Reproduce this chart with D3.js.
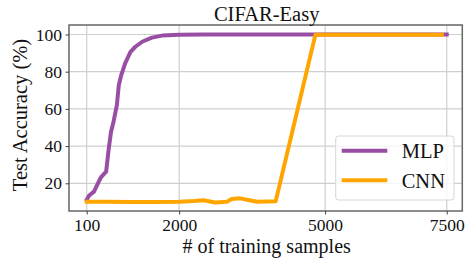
<!DOCTYPE html>
<html>
<head>
<meta charset="utf-8">
<script src="https://cdn.jsdelivr.net/npm/d3@7"></script>
<style>
  body { margin: 0; background: #fff; }
  text { font-family: "Liberation Serif", "Times New Roman", serif; fill: #111; }
</style>
</head>
<body>
<div id="chart"></div>
<script>
const mlpX = [100, 150, 250, 350, 400, 500, 550, 600, 650, 720, 760, 810, 890, 1000, 1100, 1240, 1440, 1650, 2000, 2500, 3000, 4000, 5000, 6000, 7500];
const mlpY = [11.2, 13.4, 15.5, 21, 23.5, 26.3, 38, 47.7, 53, 62, 72.8, 78.2, 84.5, 90.7, 93.4, 96.1, 98.3, 99.4, 99.8, 100, 100, 100, 100, 100, 100];

const cnnX = [100, 500, 1000, 1500, 2000, 2300, 2500, 2740, 2980, 3080, 3250, 3420, 3600, 3985, 4800, 5500, 6500, 7400];
const cnnY = [10.1, 10.1, 10.0, 10.0, 10.1, 10.5, 10.9, 9.7, 10.1, 11.6, 11.9, 11.0, 10.1, 10.4, 99.8, 99.9, 99.9, 99.9];

const xTicks = [100, 2000, 5000, 7500];
const yTicks = [20, 40, 60, 80, 100];

const legend = ['MLP', 'CNN'];
const colors = ['#984ea3', '#ffa500'];

const title = 'CIFAR-Easy';
const xLabel = '# of training samples';
const yLabel = 'Test Accuracy (%)';

const width = 466;
const height = 258;

const plotLeft = 69;
const plotRight = 462.3;
const plotTop = 25;
const plotBottom = 211;

const xScale = d3.scaleLinear().domain([-264, 7820]).range([plotLeft, plotRight]);
const yScale = d3.scaleLinear().domain([5.1, 105.1]).range([plotBottom, plotTop]);

const svg = d3
  .select('#chart')
  .append('svg')
  .attr('width', width)
  .attr('height', height);

// grid
svg
  .append('g')
  .selectAll('line')
  .data(xTicks)
  .enter()
  .append('line')
  .attr('x1', (d) => xScale(d))
  .attr('x2', (d) => xScale(d))
  .attr('y1', plotTop)
  .attr('y2', plotBottom)
  .attr('stroke', '#cfcfcf')
  .attr('stroke-width', 1.2);

svg
  .append('g')
  .selectAll('line')
  .data(yTicks)
  .enter()
  .append('line')
  .attr('x1', plotLeft)
  .attr('x2', plotRight)
  .attr('y1', (d) => yScale(d))
  .attr('y2', (d) => yScale(d))
  .attr('stroke', '#cfcfcf')
  .attr('stroke-width', 1.2);

const line = d3
  .line()
  .x((d) => xScale(d[0]))
  .y((d) => yScale(d[1]));

const datasets = [
  mlpX.map((x, i) => [x, mlpY[i]]),
  cnnX.map((x, i) => [x, cnnY[i]]),
];

datasets.forEach((subDataset, index) => {
  svg
    .append('path')
    .datum(subDataset)
    .attr('fill', 'none')
    .attr('stroke', colors[index])
    .attr('stroke-width', 4)
    .attr('stroke-linecap', 'square')
    .attr('stroke-linejoin', 'round')
    .attr('d', line);
});

// frame
svg
  .append('rect')
  .attr('x', plotLeft)
  .attr('y', plotTop)
  .attr('width', plotRight - plotLeft)
  .attr('height', plotBottom - plotTop)
  .attr('fill', 'none')
  .attr('stroke', '#666')
  .attr('stroke-width', 1.5);

const xAxis = (g) => {
  g.attr('transform', `translate(0, ${plotBottom})`).call(
    d3.axisBottom(xScale).tickValues(xTicks).tickSize(3.5).tickPadding(4).tickFormat(d3.format('d')),
  );
};

const yAxis = (g) => {
  g.attr('transform', `translate(${plotLeft}, 0)`).call(
    d3.axisLeft(yScale).tickValues(yTicks).tickSize(3.5).tickPadding(3.5),
  );
};

svg.append('g').call(xAxis);
svg.append('g').call(yAxis);

svg.selectAll('.domain').remove();
svg.selectAll('.tick line').attr('stroke', '#444');
svg
  .selectAll('.tick text')
  .attr('font-size', 17.5)
  .attr('font-family', '"Liberation Serif", serif')
  .attr('fill', '#111');

svg
  .append('text')
  .attr('text-anchor', 'middle')
  .attr('x', (plotLeft + plotRight) / 2 + 1)
  .attr('y', 21)
  .attr('font-size', 20.5)
  .text(title);

svg
  .append('text')
  .attr('text-anchor', 'middle')
  .attr('x', (plotLeft + plotRight) / 2 + 1)
  .attr('y', 253)
  .attr('font-size', 20)
  .text(xLabel);

svg
  .append('text')
  .attr('text-anchor', 'middle')
  .attr('transform', `translate(26.5, ${(plotTop + plotBottom) / 2 - 3}) rotate(-90)`)
  .attr('font-size', 20.5)
  .text(yLabel);

// legend
const lg = svg.append('g').attr('transform', 'translate(335.7, 136)');
lg.append('rect')
  .attr('width', 118.3)
  .attr('height', 64)
  .attr('rx', 3)
  .attr('fill', 'rgba(255,255,255,0.8)')
  .attr('stroke', '#d6d6d6')
  .attr('stroke-width', 1);

legend.forEach((name, index) => {
  const y = 14.7 + index * 29.6;
  lg.append('line')
    .attr('x1', 6)
    .attr('x2', 51.6)
    .attr('y1', y)
    .attr('y2', y)
    .attr('stroke', colors[index])
    .attr('stroke-width', 4);
  lg.append('text')
    .attr('x', 66)
    .attr('y', y + 7.5)
    .attr('font-size', 20.5)
    .text(name);
});
</script>
</body>
</html>
